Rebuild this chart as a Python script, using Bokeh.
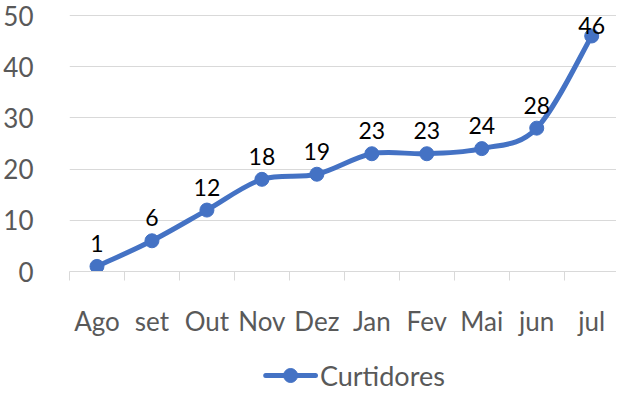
from bokeh.plotting import figure
from bokeh.layouts import column
from bokeh.models import (Range1d, FixedTicker, CustomJSTickFormatter,
                          ColumnDataSource)
from bokeh.core.properties import value
from bokeh.embed import file_html
from bokeh.resources import INLINE

categories = ["Ago", "set", "Out", "Nov", "Dez", "Jan", "Fev", "Mai", "jun", "jul"]
curtidores = [1, 6, 12, 18, 19, 23, 23, 24, 28, 46]
y_ticks = [0, 10, 20, 30, 40, 50]
series_name = "Curtidores"

BLUE = "#4472C4"
GREY = "#595959"
GRID = "#D9D9D9"
FONT = "Lato"

n = len(categories)
xs = [i + 0.5 for i in range(n)]

p = figure(width=616, height=355, output_backend="svg", toolbar_location=None,
           x_range=Range1d(0, 9.951), y_range=Range1d(0, 52.93),
           min_border_left=68, min_border_right=0, min_border_top=0,
           min_border_bottom=84)
p.outline_line_color = None
p.background_fill_color = "white"
p.border_fill_color = "white"

# smooth line (Catmull-Rom style bezier segments, like Excel's smoothed line)
seg = dict(x0=[], y0=[], x1=[], y1=[], cx0=[], cy0=[], cx1=[], cy1=[])
for i in range(n - 1):
    pm = max(i - 1, 0)
    pp = min(i + 2, n - 1)
    seg["x0"].append(xs[i]); seg["y0"].append(curtidores[i])
    seg["x1"].append(xs[i + 1]); seg["y1"].append(curtidores[i + 1])
    seg["cx0"].append(xs[i] + (xs[i + 1] - xs[pm]) / 6)
    seg["cy0"].append(curtidores[i] + (curtidores[i + 1] - curtidores[pm]) / 6)
    seg["cx1"].append(xs[i + 1] - (xs[pp] - xs[i]) / 6)
    seg["cy1"].append(curtidores[i + 1] - (curtidores[pp] - curtidores[i]) / 6)

p.bezier(source=ColumnDataSource(seg), x0="x0", y0="y0", x1="x1", y1="y1",
         cx0="cx0", cy0="cy0", cx1="cx1", cy1="cy1",
         line_color=BLUE, line_width=5, line_cap="round")

src = ColumnDataSource(dict(x=xs, y=curtidores, lab=[str(v) for v in curtidores],
                            yoff=[-23] * (n - 1) + [-10]))
p.scatter("x", "y", source=src, size=14, fill_color=BLUE, line_color=BLUE)
p.text("x", "y", text="lab", source=src, text_align="center",
       text_baseline="alphabetic", y_offset="yoff", text_font=value(FONT),
       text_font_size="23px", text_color="#000000")

# y axis
p.yaxis.ticker = FixedTicker(ticks=y_ticks)
p.yaxis.axis_line_color = None
p.yaxis.major_tick_line_color = None
p.yaxis.minor_tick_line_color = None
p.yaxis.major_label_standoff = 30
p.yaxis.major_label_text_font = FONT
p.yaxis.major_label_text_font_size = "26px"
p.yaxis.major_label_text_color = GREY

# x axis
p.xaxis.ticker = FixedTicker(ticks=xs, minor_ticks=list(range(n + 1)))
p.xaxis.formatter = CustomJSTickFormatter(args=dict(labels=categories),
                                          code="return labels[Math.floor(tick)] || ''")
p.xaxis.axis_line_color = GRID
p.xaxis.axis_line_width = 1
p.xaxis.major_tick_out = 0
p.xaxis.major_tick_in = 0
p.xaxis.minor_tick_out = 9
p.xaxis.minor_tick_in = 0
p.xaxis.minor_tick_line_color = GRID
p.xaxis.major_label_standoff = 24
p.xaxis.major_label_text_font = FONT
p.xaxis.major_label_text_font_size = "26px"
p.xaxis.major_label_text_color = GREY

p.xgrid.grid_line_color = None
p.ygrid.grid_line_color = GRID
p.ygrid.grid_line_width = 1

# legend strip below the chart (pixel-unit canvas, items centred vertically)
lg = figure(width=616, height=40, output_backend="svg", toolbar_location=None,
            x_range=Range1d(0, 616), y_range=Range1d(0, 40),
            min_border_left=0, min_border_right=0, min_border_top=0,
            min_border_bottom=0, x_axis_location=None, y_axis_location=None)
lg.outline_line_color = None
lg.grid.visible = False
lg.segment(x0=[221], y0=[20], x1=[277], y1=[20], line_color=BLUE,
           line_width=5, line_cap="round")
lg.scatter(x=[249], y=[20], size=14, fill_color=BLUE, line_color=BLUE)
lg.text(x=[282], y=[20], text=[series_name], text_align="left",
        text_baseline="middle", text_font=value(FONT),
        text_font_size="27px", text_color=GREY)

layout = column(p, lg, spacing=0)
open("out.html", "w").write(file_html(layout, INLINE))
